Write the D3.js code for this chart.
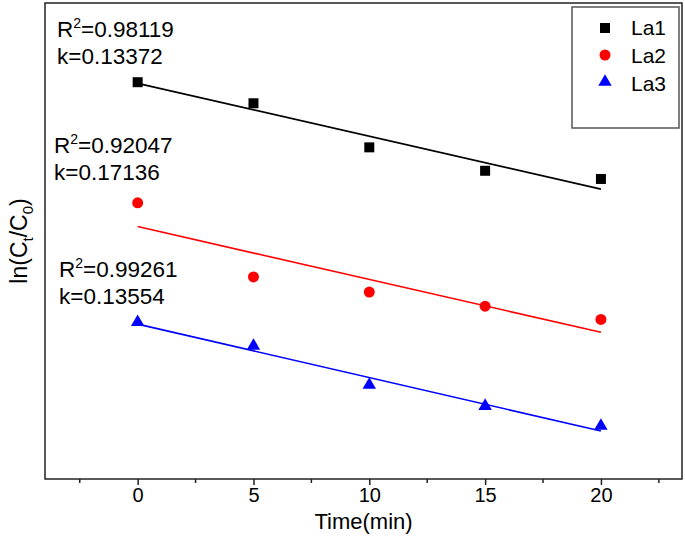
<!DOCTYPE html>
<html>
<head>
<meta charset="utf-8">
<script src="https://cdn.jsdelivr.net/npm/d3@7"></script>
<style>
  body { margin: 0; background: #fff; }
  svg { display: block; font-family: "Liberation Sans", Arial, sans-serif; }
</style>
</head>
<body>
<div id="chart"></div>
<script>
// data
const times = [0, 5, 10, 15, 20];
const seriesNames = ["La1", "La2", "La3"];
const la1 = [-0.83, -1.37, -2.50, -3.10, -3.31];
const la2 = [-3.92, -5.82, -6.21, -6.57, -6.91];
const la3 = [-6.98, -7.59, -8.59, -9.13, -9.64];
const fitIntercept = [-0.86, -4.53, -7.03];
const fitSlope = [-0.1355, -0.1355, -0.137];
const r2Labels = ["0.98119", "0.92047", "0.99261"];
const kLabels = ["0.13372", "0.17136", "0.13554"];
const xTicks = [0, 5, 10, 15, 20];
const xMinorTicks = [-2.5, 2.5, 7.5, 12.5, 17.5, 22.5];

const colors = ["#000000", "#ff0000", "#0000ff"];
const symbols = [d3.symbolSquare, d3.symbolCircle, d3.symbolTriangle];
const symSizes = [100, 95, 78];

const W = 685, H = 547;
const margin = {top: 3, right: 3, bottom: 68, left: 45};

const svg = d3.select("#chart").append("svg")
    .attr("width", W)
    .attr("height", H);

const x = d3.scaleLinear().domain([-4, 23.5]).range([margin.left, W - margin.right]);
const y = d3.scaleLinear().domain([-11, 1.2]).range([H - margin.bottom, margin.top]);

// x axis, ticks outward only
const xAxis = svg.append("g")
    .attr("transform", "translate(0," + (H - margin.bottom) + ")")
    .call(d3.axisBottom(x).tickValues(xTicks).tickSize(6).tickSizeOuter(0).tickPadding(3));
xAxis.select(".domain").remove();
xAxis.selectAll(".tick line").attr("stroke", "#222").attr("stroke-width", 1.5);
xAxis.selectAll(".tick text")
    .attr("fill", "#000")
    .style("font-size", "20px")
    .style("font-family", "Liberation Sans, Arial, sans-serif");

svg.append("g")
    .selectAll("line")
    .data(xMinorTicks)
    .enter().append("line")
    .attr("x1", d => x(d)).attr("x2", d => x(d))
    .attr("y1", H - margin.bottom).attr("y2", H - margin.bottom + 4)
    .attr("stroke", "#222").attr("stroke-width", 1.5);

// frame
svg.append("rect")
    .attr("x", margin.left).attr("y", margin.top)
    .attr("width", W - margin.left - margin.right)
    .attr("height", H - margin.top - margin.bottom)
    .attr("fill", "none")
    .attr("stroke", "#222")
    .attr("stroke-width", 1.5);

// axis titles
svg.append("text")
    .attr("x", (x(-4) + x(23.5)) / 2)
    .attr("y", 529)
    .attr("text-anchor", "middle")
    .style("font-size", "22px")
    .text("Time(min)");

const yTitle = svg.append("text")
    .attr("transform", "translate(27," + ((margin.top + H - margin.bottom) / 2) + ") rotate(-90)")
    .attr("text-anchor", "middle")
    .style("font-size", "23px");
yTitle.append("tspan").text("ln(C");
yTitle.append("tspan").attr("dy", 6).style("font-size", "15px").text("t");
yTitle.append("tspan").attr("dy", -6).text("/C");
yTitle.append("tspan").attr("dy", 6).style("font-size", "15px").text("0");
yTitle.append("tspan").attr("dy", -6).text(")");

// fit lines
const allSeries = [la1, la2, la3];
allSeries.forEach((vals, i) => {
    svg.append("line")
        .attr("x1", x(0)).attr("y1", y(fitIntercept[i]))
        .attr("x2", x(20)).attr("y2", y(fitIntercept[i] + fitSlope[i] * 20))
        .attr("stroke", colors[i])
        .attr("stroke-width", 1.6);
});

// points
allSeries.forEach((vals, i) => {
    svg.append("g")
        .selectAll("path")
        .data(vals.map((v, j) => ({t: times[j], v: v})))
        .enter().append("path")
        .attr("transform", d => "translate(" + x(d.t) + "," + y(d.v) + ")")
        .attr("d", d3.symbol().type(symbols[i]).size(symSizes[i]))
        .attr("fill", colors[i]);
});

// R^2 / k annotations
const notePos = [{x: 57, y: 37}, {x: 54, y: 153}, {x: 59, y: 277}];
notePos.forEach((p, i) => {
    const t1 = svg.append("text")
        .attr("x", p.x).attr("y", p.y)
        .style("font-size", "22.5px");
    t1.append("tspan").text("R");
    t1.append("tspan").attr("dy", -9).style("font-size", "14px").text("2");
    t1.append("tspan").attr("dy", 9).text("=" + r2Labels[i]);
    svg.append("text")
        .attr("x", p.x).attr("y", p.y + 27)
        .style("font-size", "22.5px")
        .text("k=" + kLabels[i]);
});

// legend
const legend = svg.append("g");
legend.append("rect")
    .attr("x", 572).attr("y", 7)
    .attr("width", 107).attr("height", 121)
    .attr("fill", "#fff")
    .attr("stroke", "#555")
    .attr("stroke-width", 1.5);
seriesNames.forEach((name, i) => {
    legend.append("path")
        .attr("transform", "translate(605," + (28 + i * 27) + ")")
        .attr("d", d3.symbol().type(symbols[i]).size(symSizes[i]))
        .attr("fill", colors[i]);
    legend.append("text")
        .attr("x", 631).attr("y", 35 + i * 28)
        .style("font-size", "21px")
        .text(name);
});
</script>
</body>
</html>
